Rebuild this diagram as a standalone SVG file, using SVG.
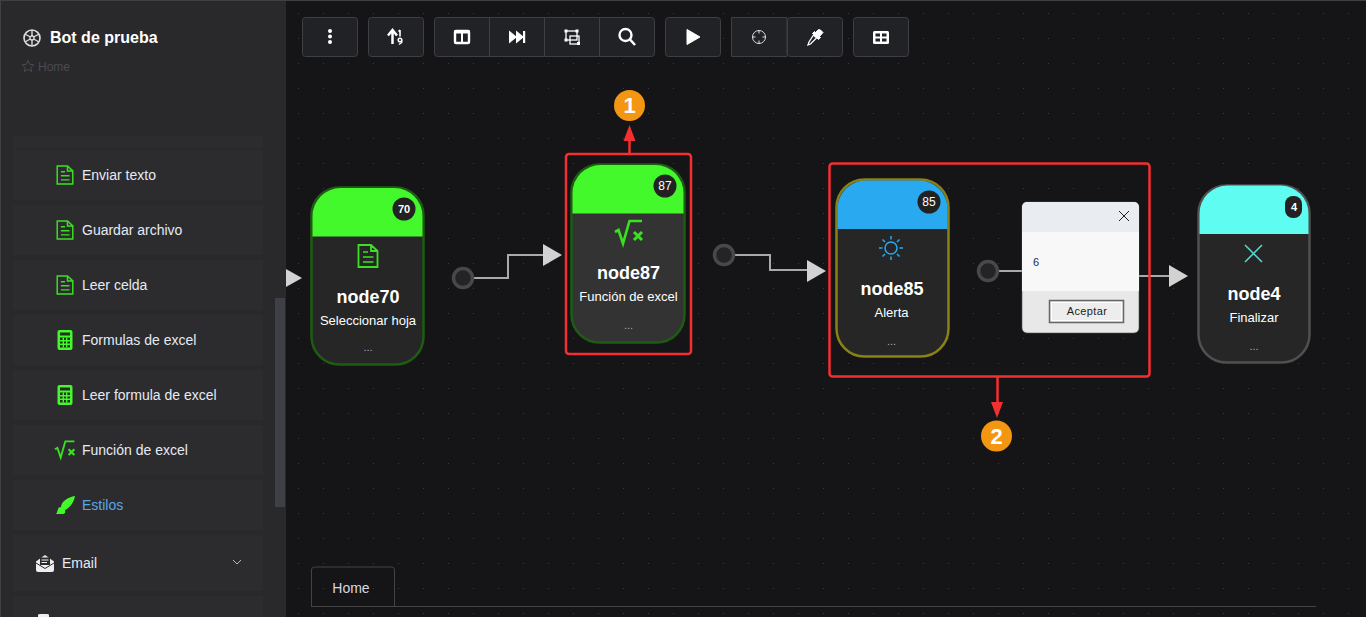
<svg xmlns="http://www.w3.org/2000/svg" width="1366" height="617" viewBox="0 0 1366 617">
<style>
text{font-family:"Liberation Sans",Arial,sans-serif}
.it{fill:#2c2c2f}
.lb{font-size:14px;fill:#e5eaf3}
.btn{fill:#212225;stroke:#3f3f42;stroke-width:1}
.ti{fill:#fff}
.tl{fill:none;stroke:#fff}
.nt{font-size:18px;font-weight:bold;fill:#fff;text-anchor:middle}
.ns{font-size:13px;fill:#fff;text-anchor:middle}
.nd{font-size:11px;fill:#aaa;text-anchor:middle}
.bd{font-size:11px;font-weight:bold;fill:#fff;text-anchor:middle}
.bn{font-size:12px;fill:#fff;text-anchor:middle}
.wire{fill:none;stroke:#aaa;stroke-width:2}
.port{fill:#242426;stroke:#484848;stroke-width:3.500}
.tri{fill:#d2d2d2}
.red{fill:none;stroke:#f42f2f;stroke-width:2.500}
.redl{stroke:#f42f2f;stroke-width:2.500;fill:none}
.redh{fill:#f42f2f}
.num{fill:#f39612}
.numt{font-size:22px;font-weight:bold;fill:#fff;text-anchor:middle}
</style>
<defs>
<pattern id="dots" x="298" y="13" width="25" height="25" patternUnits="userSpaceOnUse"><rect x="0" y="0" width="1" height="1" fill="#3c3c3c"/></pattern>
<g id="doc"><path d="M-9.500-11H3L9.500-5V11H-9.500Z M3-11V-5H9.500" fill="none" stroke="#3be022" stroke-width="1.800"/><path d="M-5-4H0M-5 1H5.500M-5 6H5.500" stroke="#3be022" stroke-width="1.700" fill="none"/></g>
<g id="calc"><rect x="-7.500" y="-10" width="15" height="20" rx="2" fill="#44f92b"/><rect x="-5" y="-7.500" width="10" height="3" fill="#24301f"/><path d="M-5-2.500H5V7.500H-5Z" fill="#24301f"/><path d="M-1.700-2.500V7.500M1.700-2.500V7.500M-5 .8H5M-5 4.200H5" stroke="#44f92b" stroke-width="1.400"/></g>
<g id="sqrt"><path d="M-14-1L-10.500-3L-6 10.500L.5-12H13" fill="none" stroke="#3be022" stroke-width="2.600"/><path d="M5-1L13 7M13-1L5 7" fill="none" stroke="#3be022" stroke-width="3"/></g>
</defs>

<rect width="1366" height="617" fill="#151517"/>
<rect x="286" y="0" width="1080" height="617" fill="url(#dots)"/>

<g id="sidebar">
<rect x="1" y="0" width="285" height="617" fill="#29292c"/>
<rect x="0" y="0" width="1" height="617" fill="#404043"/>
<rect x="0" y="0" width="1366" height="1" fill="#404043"/>
<rect x="275" y="298" width="10" height="209" fill="#3f3f46"/>
<rect x="13" y="136" width="250" height="12" class="it"/>
<rect x="13" y="150" width="250" height="50" class="it"/>
<rect x="13" y="205" width="250" height="50" class="it"/>
<rect x="13" y="260" width="250" height="50" class="it"/>
<rect x="13" y="315" width="250" height="50" class="it"/>
<rect x="13" y="370" width="250" height="50" class="it"/>
<rect x="13" y="425" width="250" height="50" class="it"/>
<rect x="13" y="480" width="250" height="50" class="it"/>
<rect x="13" y="535" width="250" height="56" class="it"/>
<rect x="13" y="596" width="250" height="21" class="it"/>
<g fill="none" stroke="#dcdcdc"><circle cx="32" cy="38" r="8" stroke-width="1.600"/><circle cx="32" cy="38" r="2" stroke-width="1.300"/><path d="M32 30V36M32 40V46M25 34L30.300 37M33.700 39L39 42M25 42L30.300 39M33.700 37L39 34" stroke-width="1.400"/></g>
<text x="50" y="43" font-size="16" font-weight="bold" fill="#fff">Bot de prueba</text>
<path d="M28 60.500L29.700 64.300L33.800 64.800L30.800 67.500L31.600 71.500L28 69.500L24.400 71.500L25.200 67.500L22.200 64.800L26.300 64.300Z" fill="none" stroke="#4b4b50" stroke-width="1"/>
<text x="38" y="71" font-size="12" fill="#4b4b50">Home</text>
<use href="#doc" transform="translate(65 175) scale(.82)"/>
<text x="82" y="180" class="lb">Enviar texto</text>
<use href="#doc" transform="translate(65 230) scale(.82)"/>
<text x="82" y="235" class="lb">Guardar archivo</text>
<use href="#doc" transform="translate(65 285) scale(.82)"/>
<text x="82" y="290" class="lb">Leer celda</text>
<use href="#calc" x="65" y="340"/>
<text x="82" y="345" class="lb">Formulas de excel</text>
<use href="#calc" x="65" y="395"/>
<text x="82" y="400" class="lb">Leer formula de excel</text>
<use href="#sqrt" transform="translate(65 450) scale(.72)"/>
<text x="82" y="455" class="lb">Función de excel</text>
<path d="M75 496C68 497 61 502 61 507L65 510C70 508 74 502 75 496ZM60 507C57 508 58 512 56 514H63C66 514 66 510 63 508Z" fill="#44f92b"/>
<text x="82" y="510" style="font-size:14px;fill:#5aa7e8">Estilos</text>
<path d="M36 561.500L45 555L54 561.500V570Q54 572 52 572H38Q36 572 36 570Z" fill="#eee"/>
<rect x="40" y="557.500" width="10" height="7.500" fill="#2b2b2e"/>
<path d="M41.500 560H48.500M41.500 562.500H47" stroke="#eee" stroke-width="1"/>
<path d="M36 563L45 568.500L54 563" fill="none" stroke="#2b2b2e" stroke-width="1"/>
<text x="62" y="568" class="lb">Email</text>
<path d="M233 560L237 564L241 560" fill="none" stroke="#b8b8b8" stroke-width="1"/>
<path d="M38 617V615Q38 614 40 614H47Q49 614 49 615V617Z" fill="#eee"/>
</g>

<g id="toolbar">
<rect x="302.500" y="17.500" width="55" height="39" rx="3" class="btn"/>
<rect x="368.500" y="17.500" width="55" height="39" rx="3" class="btn"/>
<rect x="434.500" y="17.500" width="220" height="39" rx="3" class="btn"/>
<path d="M489.500 18V56M544.500 18V56M599.500 18V56" stroke="#3f3f42"/>
<rect x="665.500" y="17.500" width="55" height="39" rx="3" class="btn"/>
<path d="M731.500 17.500H787V56.500H731.500Z" class="btn"/>
<rect x="787.500" y="17.500" width="55" height="39" rx="3" class="btn"/>
<rect x="853.500" y="17.500" width="55" height="39" rx="3" class="btn"/>
<circle cx="330" cy="31" r="2" class="ti"/><circle cx="330" cy="36.500" r="2" class="ti"/><circle cx="330" cy="42" r="2" class="ti"/>
<path d="M392.500 44V31M388 35.500L392.500 30L397 35.500" class="tl" stroke-width="2.500"/><path d="M400 30V36.500M398.500 31.500L400 30" class="tl" stroke-width="1.600"/><circle cx="400" cy="40" r="1.800" class="tl" stroke-width="1.500"/><path d="M401.800 40.500V42.500L399 44.500" class="tl" stroke-width="1.300"/>
<rect x="455" y="31" width="14" height="12" rx="1" class="tl" stroke-width="2.400"/><path d="M462 31V43" class="tl" stroke-width="2"/><path d="M454 32H470" class="tl" stroke-width="3"/>
<path d="M509 30.500L517 37L509 43.500ZM516 30.500L524 37L516 43.500Z" class="ti"/><rect x="523" y="31" width="2.200" height="12" class="ti"/>
<rect x="566" y="31" width="11" height="9" class="tl" stroke-width="1.300"/><rect x="570" y="36" width="9" height="8" class="tl" stroke-width="1.300"/><g class="ti"><rect x="564.500" y="29.500" width="3" height="3"/><rect x="575.500" y="29.500" width="3" height="3"/><rect x="564.500" y="38.500" width="3" height="3"/><rect x="577" y="42" width="3" height="3"/></g>
<circle cx="625.500" cy="35" r="6" class="tl" stroke-width="2.400"/><path d="M630 39.500L635 45" class="tl" stroke-width="2.600"/>
<path d="M687 29.500L700 37L687 44.500Z" class="ti" stroke="#fff" stroke-width="1" stroke-linejoin="round"/>
<circle cx="759" cy="37" r="6.500" fill="none" stroke="#ddd" stroke-width="1"/><path d="M759 30V33.500M759 40.500V44M752 37H755.500M762.500 37H766" stroke="#ddd" stroke-width="1"/>
<path d="M820.500 30L823 32.500L819.500 36.500L820.500 37.500L818.500 39.500L812.500 33.500L814.500 31.500L815.500 32.500L818.500 29.500Z" class="ti" stroke="#fff"/><path d="M813.500 35L816.500 38L810.500 44L808 45L809 42Z" fill="none" stroke="#fff" stroke-width="1.300"/>
<rect x="873" y="31" width="16" height="13" rx="1.500" class="ti"/>
<rect x="875.500" y="33.500" width="4.500" height="3" fill="#212225"/><rect x="882" y="33.500" width="4.500" height="3" fill="#212225"/><rect x="875.500" y="38.500" width="4.500" height="3" fill="#212225"/><rect x="882" y="38.500" width="4.500" height="3" fill="#212225"/>
</g>

<g id="connectors">
<path d="M286 269L302 278L286 287Z" class="tri"/>
<path d="M473 278H508V255H543" class="wire"/>
<circle cx="463" cy="278" r="9.500" class="port"/>
<path d="M543 244L562 255L543 266Z" class="tri"/>
<path d="M734 255H770V270H808" class="wire"/>
<circle cx="724" cy="255" r="9.500" class="port"/>
<path d="M807 260L826 271L807 282Z" class="tri"/>
<path d="M998 271H1083V276H1170" class="wire"/>
<circle cx="988" cy="271" r="9.500" class="port"/>
<path d="M1169 265L1188 276L1169 287Z" class="tri"/>
</g>

<g id="node70">
<rect x="311.500" y="187.500" width="112" height="177" rx="28" fill="#262626" stroke="#1f5c13" stroke-width="2.500"/>
<path d="M312.500 236.500V216a28 28 0 0 1 28-28H394.500a28 28 0 0 1 28 28V236.500Z" fill="#44f92b"/>
<circle cx="404" cy="209" r="11.500" fill="#222"/><text x="404" y="213" class="bd">70</text>
<use href="#doc" x="368" y="256"/>
<text x="368" y="303" class="nt">node70</text>
<text x="368" y="325" class="ns">Seleccionar hoja</text>
<text x="368" y="351" class="nd">...</text>
</g>

<g id="node87">
<rect x="571.500" y="164.500" width="113" height="178" rx="28" fill="#333" stroke="#1f5c13" stroke-width="2.500"/>
<path d="M572.500 213.500V193a28 28 0 0 1 28-28H655.500a28 28 0 0 1 28 28V213.500Z" fill="#44f92b"/>
<circle cx="665" cy="186" r="11.500" fill="#222"/><text x="665" y="190" class="bn">87</text>
<use href="#sqrt" x="629" y="233"/>
<text x="628.500" y="279" class="nt">node87</text>
<text x="628.500" y="301" class="ns">Función de excel</text>
<text x="628.500" y="329" class="nd">...</text>
</g>

<g id="node85">
<rect x="836.500" y="179.500" width="112" height="177" rx="28" fill="#262626" stroke="#8a8214" stroke-width="2.500"/>
<path d="M837.500 229V208.500a28 28 0 0 1 28-28H919.500a28 28 0 0 1 28 28V229Z" fill="#29a9ef"/>
<circle cx="929" cy="202" r="11.500" fill="#222"/><text x="929" y="206" class="bn">85</text>
<g fill="none" stroke="#29a9ef" stroke-width="1.500"><circle cx="891" cy="248" r="6"/><path d="M891 236V239.500M891 256.500V260M879 248H882.500M899.500 248H903M882.500 239.500L885 242M897 254L899.500 256.500M882.500 256.500L885 254M897 242L899.500 239.500"/></g>
<text x="892" y="295" class="nt">node85</text>
<text x="891.500" y="317" class="ns">Alerta</text>
<text x="891.500" y="345" class="nd">...</text>
</g>

<g id="dialog">
<rect x="1022" y="202" width="117" height="131" rx="5" fill="#e8e8e8" stroke="#555" stroke-width=".6"/>
<path d="M1022 232V207a5 5 0 0 1 5-5H1134a5 5 0 0 1 5 5V232Z" fill="#e9ecf1"/>
<rect x="1022" y="232" width="117" height="59" fill="#f8f8f8"/>
<path d="M1119 211L1129 221M1129 211L1119 221" fill="none" stroke="#222" stroke-width="1"/>
<text x="1033" y="266" font-size="11" fill="#1a2a5a">6</text>
<rect x="1049.500" y="300.500" width="74" height="22" fill="#e8e8e8" stroke="#666" stroke-width="1.500"/>
<rect x="1051.500" y="302.500" width="70" height="18" fill="#ededed" stroke="#fff" stroke-width="1"/>
<text x="1087" y="315" font-size="11" fill="#222" text-anchor="middle" letter-spacing=".4">Aceptar</text>
</g>

<g id="node4">
<rect x="1198.500" y="185.500" width="111" height="177" rx="28" fill="#262626" stroke="#505050" stroke-width="2.500"/>
<path d="M1199.500 234V213.500a28 28 0 0 1 28-28H1280.500a28 28 0 0 1 28 28V234Z" fill="#5ffdf1"/>
<rect x="1285" y="196" width="17" height="22" rx="8" fill="#222"/><text x="1294" y="211" class="bd">4</text>
<path d="M1245 245L1262 262M1262 245L1245 262" fill="none" stroke="#4fdcd2" stroke-width="1.500"/>
<text x="1254" y="300" class="nt">node4</text>
<text x="1254" y="322" class="ns">Finalizar</text>
<text x="1254" y="350" class="nd">...</text>
</g>

<g id="annotations">
<rect x="566" y="154" width="125" height="200" rx="3" class="red"/>
<path d="M629.500 154V138" class="redl"/><path d="M629.500 125L635.500 141H623.500Z" class="redh"/>
<circle cx="629.500" cy="105.500" r="15.500" class="num"/><text x="629.500" y="113" class="numt">1</text>
<rect x="829.500" y="163.500" width="320" height="213" rx="3" class="red"/>
<path d="M997.500 377V405" class="redl"/><path d="M997 418L1003 402H991Z" class="redh"/>
<circle cx="996.500" cy="436" r="15.500" class="num"/><text x="996.500" y="444" class="numt">2</text>
</g>

<g id="tabs">
<path d="M311.500 607V570a3 3 0 0 1 3-3H391.500a3 3 0 0 1 3 3V607" fill="none" stroke="#444"/>
<path d="M311 606.500H1316" stroke="#444"/>
<text x="351" y="593" font-size="14" fill="#d8d8e0" text-anchor="middle">Home</text>
</g>
</svg>
